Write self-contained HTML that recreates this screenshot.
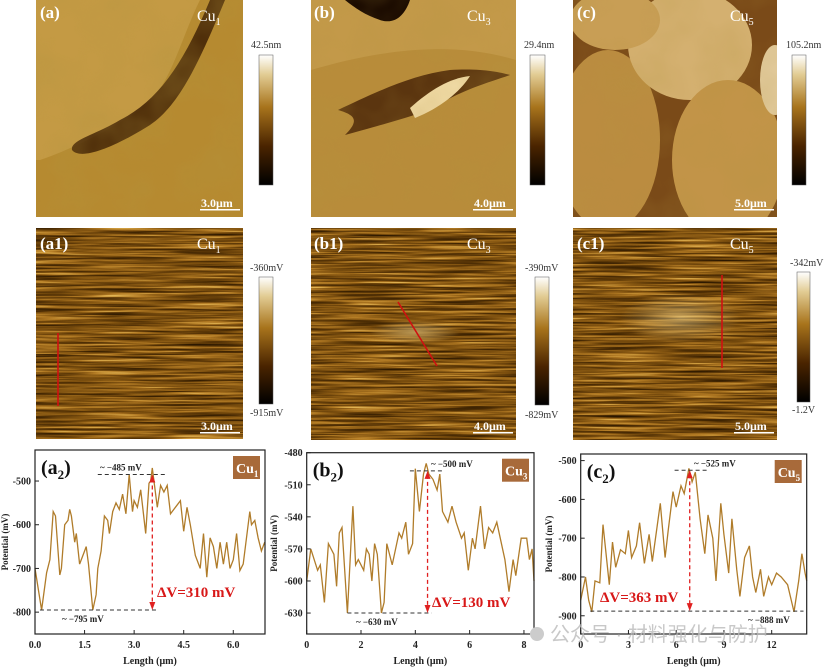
<!DOCTYPE html>
<html><head><meta charset="utf-8">
<style>
html,body{margin:0;padding:0;background:#fff;}
svg{display:block;font-family:"Liberation Serif",serif;}
</style></head>
<body>
<svg id="fig" width="827" height="668" viewBox="0 0 827 668" xmlns="http://www.w3.org/2000/svg">
<defs>
<linearGradient id="cbar" x1="0" y1="1" x2="0" y2="0">
<stop offset="0" stop-color="#000"/><stop offset="0.3" stop-color="#4a2400"/>
<stop offset="0.6" stop-color="#a8741c"/><stop offset="0.85" stop-color="#e2cc94"/><stop offset="1" stop-color="#fff"/>
</linearGradient>
<filter id="grain" x="0" y="0" width="100%" height="100%">
<feTurbulence type="fractalNoise" baseFrequency="0.02" numOctaves="3" seed="3"/>
<feColorMatrix type="matrix" values="0 0 0 0 0.45  0 0 0 0 0.3  0 0 0 0 0.05  1.2 0 0 0 -0.45"/>
</filter>
<filter id="streak" x="0" y="0" width="100%" height="100%" color-interpolation-filters="sRGB">
<feTurbulence type="fractalNoise" baseFrequency="0.012 0.45" numOctaves="3" seed="7"/>
<feColorMatrix type="matrix" values="1 0 0 0 0  1 0 0 0 0  1 0 0 0 0  0 0 0 0 1"/>
<feComponentTransfer>
<feFuncR type="table" tableValues="0.12 0.18 0.32 0.5 0.7 0.88 1"/>
<feFuncG type="table" tableValues="0.06 0.1 0.19 0.32 0.48 0.7 0.9"/>
<feFuncB type="table" tableValues="0 0 0.02 0.06 0.14 0.32 0.6"/>
</feComponentTransfer>
</filter>
<radialGradient id="glow" cx="0.5" cy="0.5" r="0.5">
<stop offset="0" stop-color="#f2dc9a" stop-opacity="0.5"/><stop offset="1" stop-color="#f2dc9a" stop-opacity="0"/>
</radialGradient>
<clipPath id="ca"><rect x="36" y="0" width="207" height="217"/></clipPath>
<clipPath id="cb"><rect x="311" y="0" width="205" height="217"/></clipPath>
<clipPath id="cc"><rect x="573" y="0" width="204" height="217"/></clipPath>
</defs>

<g clip-path="url(#ca)">
<rect x="36" y="0" width="207" height="217" fill="#b68a30"/>
<path d="M36 0 H200 C180 40 170 90 140 110 C110 130 70 150 40 160 L36 160 Z" fill="#c49a44"/>
<path d="M210 0 C185 60 160 100 120 120 C95 135 70 140 72 150 C80 160 110 150 150 125 C180 105 200 60 225 0 Z" fill="#3e1e04" opacity="0.85"/>
<rect x="36" y="0" width="207" height="217" filter="url(#grain)" opacity="0.5"/>
</g>
<g clip-path="url(#cb)">
<rect x="311" y="0" width="205" height="217" fill="#b88c3a"/>
<path d="M311 0 H516 V60 C450 40 380 50 311 70 Z" fill="#c89e50" opacity="0.7"/>
<path d="M345 0 H410 C405 15 395 25 380 20 C365 15 355 8 345 0 Z" fill="#1a0a00"/>
<path d="M338 110 C370 95 410 75 450 70 C480 68 500 72 510 75 C490 82 460 90 430 110 C400 120 370 128 345 135 C360 120 355 115 338 110 Z" fill="#4a2608" opacity="0.85"/>
<path d="M410 108 C430 90 450 78 470 76 C460 92 440 108 415 118 Z" fill="#efd9a4"/>
<rect x="311" y="0" width="205" height="217" filter="url(#grain)" opacity="0.4"/>
</g>
<g clip-path="url(#cc)">
<rect x="573" y="0" width="204" height="217" fill="#7a4a18"/>
<ellipse cx="608" cy="140" rx="52" ry="90" fill="#bb8c40"/>
<ellipse cx="690" cy="45" rx="62" ry="55" fill="#d4b070"/>
<ellipse cx="728" cy="160" rx="56" ry="80" fill="#c29448"/>
<ellipse cx="615" cy="20" rx="45" ry="30" fill="#c89e55"/>
<ellipse cx="775" cy="80" rx="15" ry="35" fill="#e0c898"/>
<rect x="573" y="0" width="204" height="217" filter="url(#grain)" opacity="0.35"/>
</g>

<g>
<rect x="36" y="228" width="207" height="211" filter="url(#streak)"/>
<line x1="58" y1="333" x2="58" y2="406" stroke="#d01010" stroke-width="1.6"/>
</g>
<g>
<rect x="311" y="228" width="205" height="212" filter="url(#streak)"/>
<ellipse cx="415" cy="332" rx="45" ry="12" fill="url(#glow)"/>
<line x1="398" y1="302" x2="437" y2="366" stroke="#d01010" stroke-width="1.6"/>
</g>
<g>
<rect x="573" y="228" width="204" height="212" filter="url(#streak)"/>
<ellipse cx="680" cy="318" rx="60" ry="25" fill="url(#glow)"/>
<line x1="722" y1="275" x2="722" y2="368" stroke="#d01010" stroke-width="1.6"/>
</g>

<g fill="#fff" font-weight="bold" font-size="17">
<text x="40" y="18">(a)</text><text x="314" y="18">(b)</text><text x="577" y="18">(c)</text>
<text x="40" y="249">(a1)</text><text x="314" y="249">(b1)</text><text x="577" y="249">(c1)</text>
</g>
<g fill="#fff" font-size="16">
<text x="197" y="21">Cu<tspan font-size="10" dy="4">1</tspan></text>
<text x="467" y="21">Cu<tspan font-size="10" dy="4">3</tspan></text>
<text x="730" y="21">Cu<tspan font-size="10" dy="4">5</tspan></text>
<text x="197" y="249">Cu<tspan font-size="10" dy="4">1</tspan></text>
<text x="467" y="249">Cu<tspan font-size="10" dy="4">3</tspan></text>
<text x="730" y="249">Cu<tspan font-size="10" dy="4">5</tspan></text>
</g>
<g fill="#fff" font-weight="bold" font-size="12">
<text x="201" y="207">3.0μm</text><rect x="200" y="209" width="40" height="1.5"/>
<text x="474" y="207">4.0μm</text><rect x="473" y="209" width="40" height="1.5"/>
<text x="735" y="207">5.0μm</text><rect x="734" y="209" width="40" height="1.5"/>
<text x="201" y="430">3.0μm</text><rect x="200" y="432" width="40" height="1.5"/>
<text x="474" y="430">4.0μm</text><rect x="473" y="432" width="40" height="1.5"/>
<text x="735" y="430">5.0μm</text><rect x="734" y="432" width="40" height="1.5"/>
</g>

<g font-size="10" fill="#333">
<rect x="259" y="55" width="14" height="130" fill="url(#cbar)" stroke="#555" stroke-width="0.5"/><text x="251" y="48">42.5nm</text>
<rect x="530" y="55" width="15" height="130" fill="url(#cbar)" stroke="#555" stroke-width="0.5"/><text x="524" y="48">29.4nm</text>
<rect x="792" y="55" width="14" height="130" fill="url(#cbar)" stroke="#555" stroke-width="0.5"/><text x="786" y="48">105.2nm</text>
<rect x="259" y="277" width="14" height="127" fill="url(#cbar)" stroke="#555" stroke-width="0.5"/><text x="250" y="271">-360mV</text><text x="250" y="416">-915mV</text>
<rect x="535" y="277" width="14" height="128" fill="url(#cbar)" stroke="#555" stroke-width="0.5"/><text x="525" y="271">-390mV</text><text x="525" y="418">-829mV</text>
<rect x="797" y="272" width="13" height="130" fill="url(#cbar)" stroke="#555" stroke-width="0.5"/><text x="790" y="266">-342mV</text><text x="792" y="413">-1.2V</text>
</g>

<g id="charts"></g>
<circle cx="537" cy="634" r="7" fill="#ccc"/>
<text x="550" y="641" font-family="'Liberation Sans','Noto Sans CJK SC',sans-serif" font-size="20" fill="#bbb" opacity="0.8">公众号 · 材料强化与防护</text>
</svg>
<script>
const aX=[0,0.2,0.35,0.45,0.55,0.62,0.75,0.8,0.9,1.0,1.05,1.1,1.2,1.25,1.35,1.5,1.55,1.62,1.75,1.85,1.9,2.0,2.1,2.2,2.25,2.35,2.45,2.55,2.65,2.75,2.85,2.95,3.0,3.1,3.2,3.35,3.45,3.5,3.55,3.7,3.8,3.9,4.0,4.1,4.25,4.4,4.5,4.6,4.7,4.85,5.0,5.1,5.2,5.3,5.4,5.5,5.6,5.7,5.8,5.9,6.0,6.1,6.2,6.3,6.5,6.55,6.65,6.75,6.85,6.95];
const aY=[-700,-795,-710,-680,-570,-580,-715,-700,-600,-590,-565,-580,-640,-620,-690,-660,-650,-690,-795,-760,-700,-660,-580,-590,-620,-570,-550,-565,-530,-575,-485,-570,-545,-560,-520,-620,-505,-500,-470,-560,-510,-525,-510,-575,-560,-545,-615,-560,-600,-670,-700,-620,-720,-630,-650,-700,-640,-690,-640,-700,-680,-620,-705,-690,-570,-600,-590,-630,-660,-640];
const aXTicks=[0.0,1.5,3.0,4.5,6.0];
const aYTicks=[-500,-600,-700,-800];
const bX=[0,0.15,0.4,0.5,0.65,0.8,1.0,1.1,1.2,1.3,1.5,1.7,1.8,1.9,2.1,2.2,2.3,2.4,2.5,2.6,2.75,2.85,2.95,3.15,3.4,3.5,3.65,3.75,3.9,4.0,4.15,4.3,4.4,4.5,4.65,4.8,4.9,5.0,5.2,5.35,5.5,5.7,5.8,5.95,6.1,6.2,6.4,6.55,6.7,6.85,7.0,7.3,7.45,7.6,7.7,7.9,8.1,8.2,8.3,8.37];
const bY=[-600,-570,-590,-585,-620,-565,-575,-605,-555,-550,-630,-530,-585,-580,-590,-570,-575,-600,-565,-575,-630,-620,-565,-585,-555,-560,-545,-575,-565,-495,-535,-500,-490,-500,-505,-515,-500,-535,-545,-530,-545,-560,-555,-590,-560,-570,-530,-570,-550,-555,-545,-580,-610,-580,-595,-560,-560,-580,-570,-600];
const bXTicks=[0,2,4,6,8];
const bYTicks=[-480,-510,-540,-570,-600,-630];
const cX=[0,0.3,0.5,0.7,0.9,1.2,1.4,1.8,2.0,2.2,2.5,2.8,3.0,3.2,3.5,3.7,4.0,4.3,4.5,5.0,5.3,5.5,5.8,6.0,6.3,6.5,6.8,7.0,7.2,7.5,7.8,8.0,8.3,8.5,8.8,9.0,9.3,9.5,9.8,10.0,10.3,10.6,10.8,11.0,11.3,11.5,11.8,12.0,12.3,12.6,13.0,13.4,13.7,13.9,14.1,14.2];
const cY=[-860,-800,-860,-890,-810,-815,-665,-820,-710,-775,-730,-740,-680,-750,-720,-660,-765,-690,-760,-610,-750,-680,-580,-620,-565,-585,-520,-555,-530,-650,-740,-640,-700,-810,-610,-690,-790,-650,-780,-850,-750,-720,-800,-840,-780,-850,-800,-820,-790,-800,-820,-890,-810,-740,-790,-810];
const cXTicks=[0,3,6,9,12];
const cYTicks=[-500,-600,-700,-800,-900];

const NS="http://www.w3.org/2000/svg";
const root=document.getElementById('charts');
function mk(tag,attrs,parent){const e=document.createElementNS(NS,tag);for(const k in attrs)e.setAttribute(k,attrs[k]);(parent||root).appendChild(e);return e;}

function chart(cfg){
  const g=mk('g',{});
  
  
  const sx=v=>cfg.L+(v-cfg.x0)/(cfg.x1-cfg.x0)*(cfg.R-cfg.L);
  const sy=v=>cfg.T+(cfg.y1-v)/(cfg.y1-cfg.y0)*(cfg.B-cfg.T);
  const pts=cfg.xs.map((x,i)=>sx(x).toFixed(1)+','+sy(cfg.ys[i]).toFixed(1)).join(' ');
  const pl=mk('polyline',{points:pts,fill:'none',stroke:'#b07c2a','stroke-width':1.3},g);
  
  
  const hi=mk('line',{x1:sx(cfg.hiA),x2:sx(cfg.hiB),y1:sy(cfg.hiV),y2:sy(cfg.hiV),stroke:'#333','stroke-dasharray':'4,3','stroke-width':1},g);
  
  
  const lo=mk('line',{x1:sx(cfg.loA),x2:sx(cfg.loB),y1:sy(cfg.loV),y2:sy(cfg.loV),stroke:'#333','stroke-dasharray':'4,3','stroke-width':1},g);
  
  
  const ar=mk('line',{x1:sx(cfg.arX),x2:sx(cfg.arX),y1:sy(cfg.hiV)+4,y2:sy(cfg.loV)-4,stroke:'#e02020','stroke-dasharray':'4,3','stroke-width':1.3},g);
  
  
  mk('path',{d:`M${sx(cfg.arX)-3},${sy(cfg.hiV)+8} L${sx(cfg.arX)},${sy(cfg.hiV)} L${sx(cfg.arX)+3},${sy(cfg.hiV)+8}Z`,fill:'#e02020'},g);
  mk('path',{d:`M${sx(cfg.arX)-3},${sy(cfg.loV)-8} L${sx(cfg.arX)},${sy(cfg.loV)} L${sx(cfg.arX)+3},${sy(cfg.loV)-8}Z`,fill:'#e02020'},g);
  const fr=mk('rect',{x:cfg.L,y:cfg.T,width:cfg.R-cfg.L,height:cfg.B-cfg.T,fill:'none',stroke:'#222','stroke-width':1.2},g);
  
  
  cfg.xt.forEach(v=>{
    mk('line',{x1:sx(v),x2:sx(v),y1:cfg.B,y2:cfg.B-4,stroke:'#222'},g);
    const t=mk('text',{x:sx(v),y:cfg.B+14,'text-anchor':'middle','font-size':10,'font-weight':'bold',fill:'#222'},g);
    t.textContent=cfg.xfmt(v);
    
    
  });
  cfg.yt.forEach(v=>{
    mk('line',{x1:cfg.L,x2:cfg.L+4,y1:sy(v),y2:sy(v),stroke:'#222'},g);
    const t=mk('text',{x:cfg.L-4,y:sy(v)+3.5,'text-anchor':'end','font-size':10,'font-weight':'bold',fill:'#222'},g);
    t.textContent=v;
    
    
  });
  const xl=mk('text',{x:(cfg.L+cfg.R)/2,y:cfg.B+30,'text-anchor':'middle','font-size':10,'font-weight':'bold',fill:'#222'},g);
  xl.textContent='Length (μm)';
  
  
  const yl=mk('text',{x:0,y:0,transform:`translate(${cfg.yLabX},${(cfg.T+cfg.B)/2}) rotate(-90)`,'text-anchor':'middle','font-size':9,'font-weight':'bold',fill:'#222'},g);
  yl.textContent='Potential (mV)';
  
  
  const pn=mk('text',{x:cfg.L+6,y:cfg.T+24,'font-size':20,'font-weight':'bold',fill:'#111'},g);
  pn.innerHTML=cfg.panel;
  
  
  const bx=mk('rect',{x:cfg.R-32,y:cfg.T+6,width:27,height:23,fill:'#a86a3a'},g);
  
  
  const bt=mk('text',{x:cfg.R-29,y:cfg.T+23,'font-size':14,'font-weight':'bold',fill:'#fff'},g);
  bt.innerHTML=cfg.badge;
  const hl=mk('text',{x:cfg.hiLX,y:sy(cfg.hiV)-4,'font-size':9,'font-weight':'bold',fill:'#222'},g);
  hl.textContent=cfg.hiLab;
  
  
  const ll=mk('text',{x:cfg.loLX,y:sy(cfg.loV)+cfg.loDy,'font-size':9,'font-weight':'bold',fill:'#222'},g);
  ll.textContent=cfg.loLab;
  
  
  const dl=mk('text',{x:cfg.dX,y:cfg.dY,'font-size':15,'font-weight':'bold',fill:'#d81818'},g);
  dl.textContent=cfg.dLab;
  
  
}

chart({name:'chart-a2',L:35,R:265,T:450,B:634,x0:0,x1:6.96,y0:-850,y1:-429,xs:aX,ys:aY,xt:aXTicks,yt:aYTicks,xfmt:v=>v.toFixed(1),
  hiV:-485,hiA:1.9,hiB:4.0,loV:-795,loA:0.15,loB:3.7,arX:3.55,hiLX:100,hiLab:'~ −485 mV',loLX:62,loDy:12,loLab:'~ −795 mV',
  dX:157,dY:597,dLab:'ΔV=310 mV',yLabX:8,panel:'(a<tspan font-size="13" dy="5">2</tspan><tspan dy="-5">)</tspan>',badge:'Cu<tspan font-size="9" dy="4">1</tspan>'});
chart({name:'chart-b2',L:306.7,R:534,T:452.7,B:634,x0:0,x1:8.37,y0:-649.6,y1:-480,xs:bX,ys:bY,xt:bXTicks,yt:bYTicks,xfmt:v=>String(v),
  hiV:-497,hiA:3.8,hiB:5.0,loV:-630,loA:1.5,loB:4.6,arX:4.45,hiLX:431,hiLab:'~ −500 mV',loLX:356,loDy:12,loLab:'~ −630 mV',
  dX:432,dY:607,dLab:'ΔV=130 mV',yLabX:277,panel:'(b<tspan font-size="13" dy="5">2</tspan><tspan dy="-5">)</tspan>',badge:'Cu<tspan font-size="9" dy="4">3</tspan>'});
chart({name:'chart-c2',L:580.7,R:806.7,T:454,B:634,x0:0,x1:14.2,y0:-947,y1:-483,xs:cX,ys:cY,xt:cXTicks,yt:cYTicks,xfmt:v=>String(v),
  hiV:-525,hiA:5.9,hiB:8.0,loV:-888,loA:0.6,loB:14.0,arX:6.85,hiLX:694,hiLab:'~ −525 mV',loLX:748,loDy:12,loLab:'~ −888 mV',
  dX:600,dY:602,dLab:'ΔV=363 mV',yLabX:552,panel:'(c<tspan font-size="13" dy="5">2</tspan><tspan dy="-5">)</tspan>',badge:'Cu<tspan font-size="9" dy="4">5</tspan>'});
</script>
</body></html>
